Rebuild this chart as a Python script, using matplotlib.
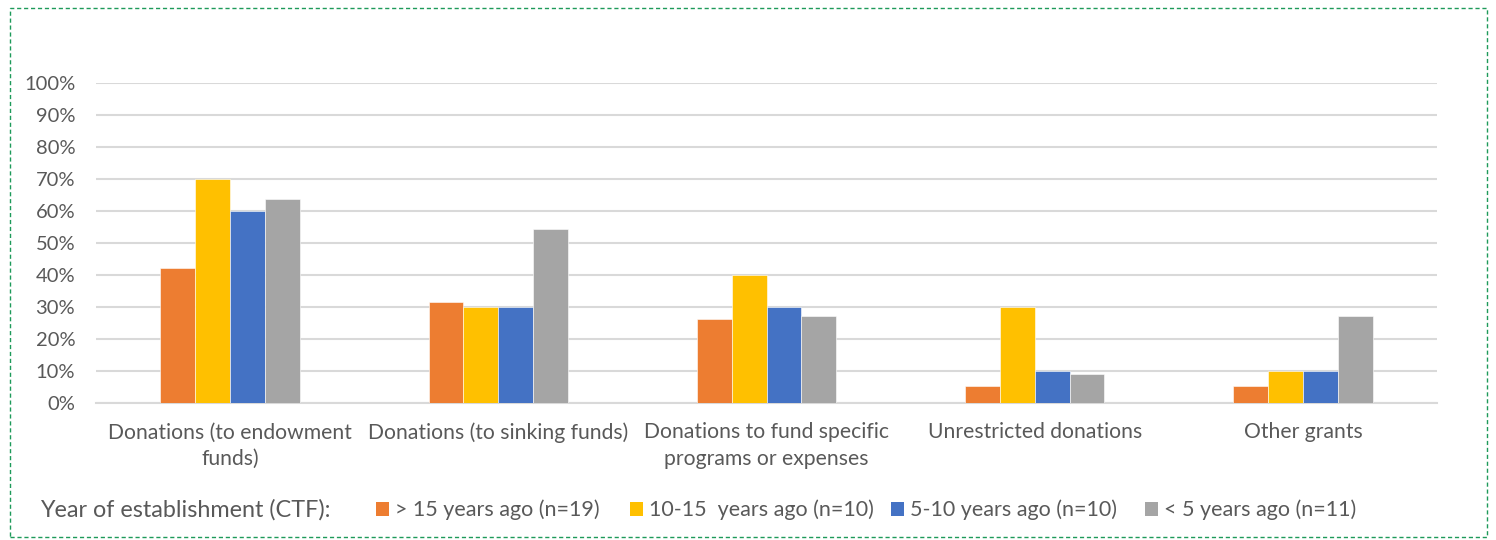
import matplotlib
matplotlib.use("Agg")
import matplotlib.pyplot as plt
import numpy as np
from matplotlib.patches import Rectangle, Patch
from matplotlib.ticker import PercentFormatter

plt.rcParams['font.family'] = ['Lato', 'DejaVu Sans']

categories = [
    "Donations (to endowment\nfunds)",
    "Donations (to sinking funds)",
    "Donations to fund specific\nprograms or expenses",
    "Unrestricted donations",
    "Other grants",
]
series_labels = [
    "> 15 years ago (n=19)",
    "10-15  years ago (n=10)",
    "5-10 years ago (n=10)",
    "< 5 years ago (n=11)",
]
over_15 = [42.1, 31.6, 26.3, 5.3, 5.3]
from_10_15 = [70.0, 30.0, 40.0, 30.0, 10.0]
from_5_10 = [60.0, 30.0, 30.0, 10.0, 10.0]
under_5 = [63.6, 54.5, 27.3, 9.1, 27.3]
series = [over_15, from_10_15, from_5_10, under_5]
colors = ["#ED7D31", "#FFC000", "#4472C4", "#A5A5A5"]
y_ticks = list(range(0, 101, 10))

text_color = "#595959"
grid_color = "#D9D9D9"
W, H = 1496, 540

fig = plt.figure(figsize=(W / 100, H / 100), dpi=100)
ax = fig.add_axes([96 / W, 137 / H, 1341 / W, 320 / H])

x = np.arange(len(categories))
bar_w = 0.13
for i, (vals, col, lab) in enumerate(zip(series, colors, series_labels)):
    ax.bar(x + (i - 1.5) * bar_w, vals, width=bar_w, color=col, label=lab,
           edgecolor="white", linewidth=0.4, zorder=3)

ax.set_xlim(-0.5, len(categories) - 0.5)
ax.set_ylim(0, 100)
ax.set_yticks(y_ticks)
ax.yaxis.set_major_formatter(PercentFormatter(decimals=0))
ax.grid(axis="y", color=grid_color, linewidth=1.5, zorder=0)
ax.set_axisbelow(True)
for s in ["top", "right", "left"]:
    ax.spines[s].set_visible(False)
ax.spines["bottom"].set_color(grid_color)
ax.spines["bottom"].set_linewidth(1.5)
ax.tick_params(axis="both", length=0, colors=text_color)
ax.tick_params(axis="y", labelsize=14.5, pad=15)
ax.tick_params(axis="x", labelsize=15.2, pad=14)
ax.set_xticks(x)
ax.set_xticklabels(categories, linespacing=1.4)

# Legend row: caption followed by one entry per series
legend_y = 1 - 510 / H
fig.text(40 / W, legend_y, "Year of establishment (CTF):", fontsize=16.8,
         color=text_color, va="center", ha="left")
entry_x = [376, 630, 891, 1145]
for col, lab, ex in zip(colors, series_labels, entry_x):
    fig.legend([Patch(facecolor=col, edgecolor="none")], [lab],
               loc="center left", bbox_to_anchor=(ex / W, legend_y),
               frameon=False, fontsize=15.5, labelcolor=text_color,
               handlelength=0.62, handleheight=0.62, handletextpad=0.25,
               borderaxespad=0, borderpad=0)

fig.patches.append(Rectangle((10 / W, 3 / H), 1477 / W, 529 / H,
                             transform=fig.transFigure, fill=False,
                             edgecolor="#1E9A5A", linestyle=(0, (3, 2)),
                             linewidth=1.0))

fig.savefig("out.png", dpi=100)
